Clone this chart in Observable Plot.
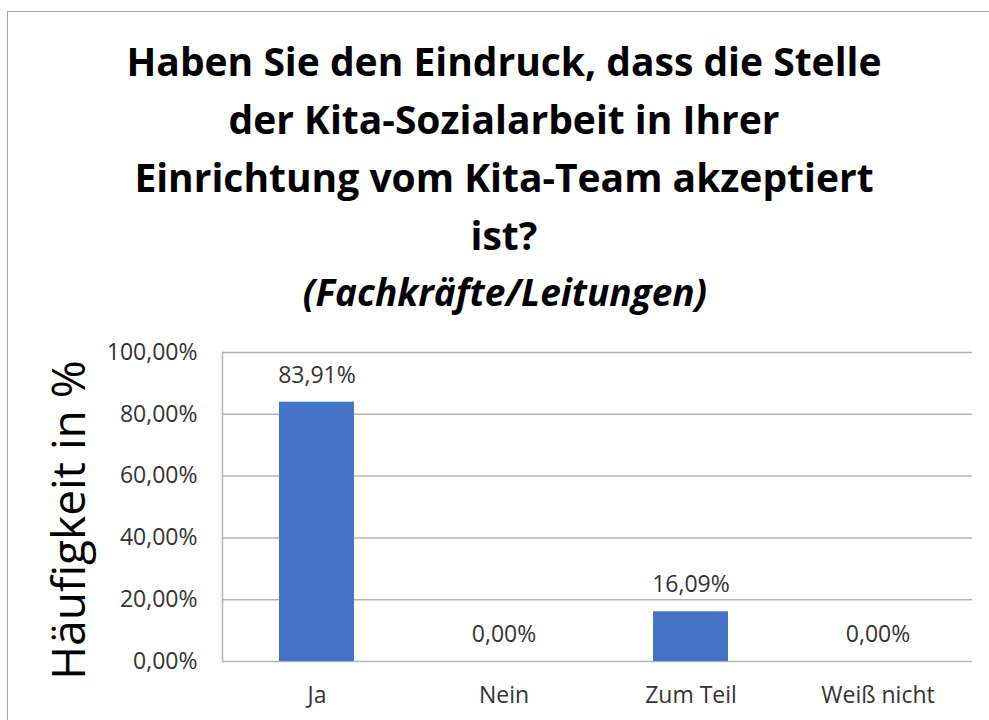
<!DOCTYPE html>
<html>
<head>
<meta charset="utf-8">
<script src="https://cdn.jsdelivr.net/npm/d3@7"></script>
<script src="https://cdn.jsdelivr.net/npm/@observablehq/plot@0.6"></script>
<style>
  html, body { margin: 0; padding: 0; background: #fff; width: 989px; height: 720px; overflow: hidden; }
  #frame { position: absolute; left: 7px; top: 11px; width: 1000px; height: 800px; border-left: 1.5px solid #a6a6a6; border-top: 1.5px solid #a6a6a6; }
  #title { position: absolute; left: 0; top: 32px; width: 1008px; text-align: center; font-family: "Open Sans", sans-serif; font-weight: 700; font-size: 39px; line-height: 58px; color: #000; }
  #subtitle { position: absolute; left: 0; top: 263px; width: 1010px; text-align: center; font-family: "Open Sans", sans-serif; font-weight: 700; font-style: italic; font-size: 37px; line-height: 58px; color: #000; }
  #chart { position: absolute; left: 0; top: 300px; }
  #chart svg { background: transparent; }
</style>
</head>
<body>
<div id="frame"></div>
<div id="title"></div>
<div id="subtitle"></div>
<div id="chart"></div>
<script>
const titleLines = ["Haben Sie den Eindruck, dass die Stelle", "der Kita-Sozialarbeit in Ihrer", "Einrichtung vom Kita-Team akzeptiert", "ist?"];
const subtitle = "(Fachkräfte/Leitungen)";
const categories = ["Ja", "Nein", "Zum Teil", "Weiß nicht"];
const values = [0.8391, 0.0, 0.1609, 0.0];
const yTicks = [0, 0.2, 0.4, 0.6, 0.8, 1.0];
const yLabel = "Häufigkeit in %";

const de = d3.formatLocale({decimal: ",", thousands: ".", grouping: [3], currency: ["", " €"]});
const pct = de.format(".2%");

const t = document.getElementById("title");
titleLines.forEach(l => { const d = document.createElement("div"); d.textContent = l; t.appendChild(d); });
document.getElementById("subtitle").textContent = subtitle;

const data = categories.map((c, i) => ({cat: c, val: values[i]}));

const chart = Plot.plot({
  width: 989,
  height: 420,
  marginTop: 52,
  marginBottom: 59,
  marginLeft: 222,
  marginRight: 17,
  style: {fontFamily: "'Open Sans', sans-serif", background: "transparent", color: "#333"},
  x: {domain: categories, paddingInner: 0.6, paddingOuter: 0.3, label: null},
  y: {domain: [0, 1], label: null},
  marks: [
    Plot.ruleY(yTicks, {stroke: "#b3b3b3", strokeWidth: 1.5}),
    Plot.frame({anchor: "left", stroke: "#b3b3b3", strokeWidth: 1.5}),
    Plot.barY(data, {x: "cat", y: "val", fill: "#4472c4"}),
    Plot.text(data, {x: "cat", y: "val", text: d => pct(d.val), dy: -27, fontSize: 23, fill: "#333"}),
    Plot.axisY({ticks: yTicks, tickFormat: pct, tickSize: 0, tickPadding: 25, fontSize: 23, label: null}),
    Plot.axisX({tickSize: 0, tickPadding: 25, fontSize: 23, label: null}),
    Plot.text([yLabel], {frameAnchor: "left", textAnchor: "middle", dx: -152, dy: 13, rotate: -90, fontSize: 46, fill: "#000"})
  ]
});
document.getElementById("chart").appendChild(chart);
</script>
</body>
</html>
